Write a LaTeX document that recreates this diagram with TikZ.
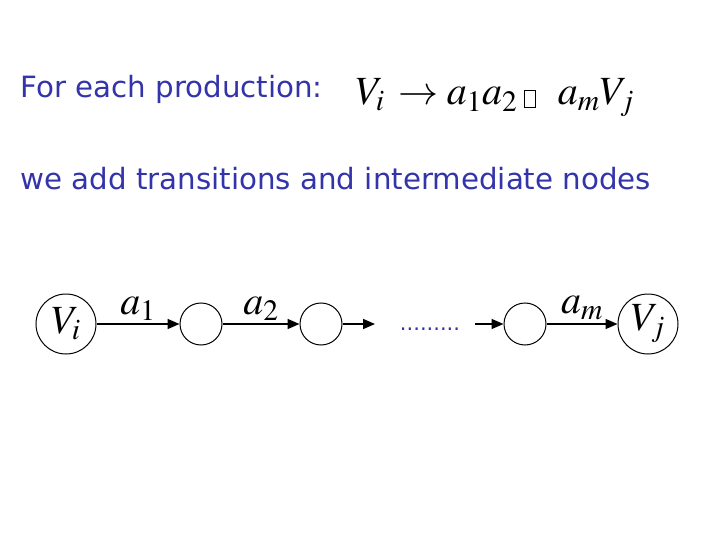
\documentclass[tikz,border=0pt]{standalone}
\usepackage{mathptmx}
\usepackage[no-math]{fontspec}
\setsansfont{DejaVu Sans}
\usetikzlibrary{arrows.meta}
\definecolor{slideblue}{RGB}{51,51,170}
\tikzset{every path/.style={line width=1pt}, every node/.style={inner sep=0pt},
  bigstate/.style={circle, draw, minimum size=60pt, font=\fontsize{40}{46}\selectfont},
  smallstate/.style={circle, draw, minimum size=42pt},
  move/.style={line width=1.6pt, -{Triangle[length=12pt,width=10pt]}},
  sym/.style={font=\fontsize{40}{46}\selectfont},
  slidetext/.style={anchor=base west, text=slideblue, font=\sffamily\fontsize{29.3}{34}\selectfont}}

\begin{document}
\begin{tikzpicture}[x=1pt,y=-1pt]
     \useasboundingbox (0,0) rectangle (720,540);
     \node[slidetext] (head) at (20,98) {For each production:};
     \node[sym, anchor=base west] (rule) at (355,105)
       {$V_i\, \to a_1a_2$\,{\fboxsep=0pt\fboxrule=0.8pt\fbox{\rule[-2pt]{0pt}{16pt}\hspace{10pt}}}\hspace{22pt}$a_mV_j$};
     \node[slidetext] (add) at (20,190) {we add transitions and intermediate nodes};
     % the chain
     \node[bigstate] (vi) at (66,324) {$V_i$};
     \node[bigstate] (vj) at (648,324) {$V_j$};
     \foreach \n/\x in {p1/201,p2/321,pm/525}
      \node[smallstate] (\n) at (\x,324) {};
     \coordinate (gapl) at (375,324);
     \coordinate (gapr) at (475,324);
     \node[text=slideblue, font=\sffamily\fontsize{21}{26}\selectfont, anchor=base] (dots) at (430,330) {.........};
     \draw[move] (vi) -- node[sym, above=3pt] {$a_1$} (p1);
     \draw[move] (p1) -- node[sym, above=3pt] {$a_2$} (p2);
     \draw[move] (p2) -- (gapl);
     \draw[move] (gapr) -- (pm);
     \draw[move] (pm) -- node[sym, above=3pt] {$a_m$} (vj);
    \end{tikzpicture}
\end{document}
